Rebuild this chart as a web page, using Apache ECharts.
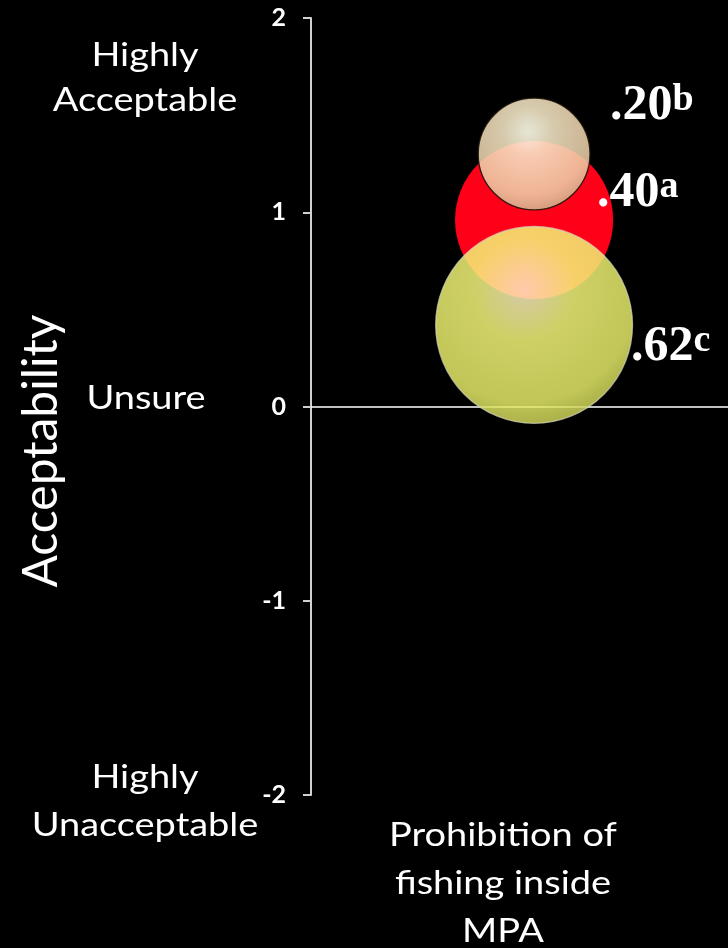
<!DOCTYPE html>
<html>
<head>
<meta charset="utf-8">
<script src="https://cdn.jsdelivr.net/npm/echarts@6/dist/echarts.min.js"></script>
<style>
html,body{margin:0;padding:0;background:#000;}
#chart{width:728px;height:948px;}
</style>
</head>
<body>
<div id="chart"></div>
<script>
// ---- data ----
const categories = ['Prohibition of\nfishing inside\nMPA'];
const groupNames = ['a', 'b', 'c'];
const proportions = [0.40, 0.20, 0.62];      // bubble size (proportion of respondents)
const meanAcceptability = [0.96, 1.30, 0.42]; // y value
const superscripts = ['a', 'b', 'c'];
const categoryX = [0.535];                    // x position of the category on the hidden x scale
const yTickValues = [-2, -1, 0, 1, 2];
const scaleLabels = ['Highly\nAcceptable', 'Unsure', 'Highly\nUnacceptable'];
const axisTitle = 'Acceptability';

// ---- styles ----
const fills = [
  '#ff0019',
  {type:'radial', x:0.45, y:0.3, r:0.75, colorStops:[
    {offset:0, color:'rgba(255,255,236,0.9)'},
    {offset:0.3, color:'rgba(246,232,198,0.87)'},
    {offset:0.75, color:'rgba(236,208,168,0.86)'},
    {offset:1, color:'rgba(196,166,128,0.9)'}]},
  {type:'radial', x:0.45, y:0.32, r:0.72, colorStops:[
    {offset:0, color:'rgba(255,240,200,0.84)'},
    {offset:0.35, color:'rgba(246,248,122,0.84)'},
    {offset:0.8, color:'rgba(230,236,104,0.84)'},
    {offset:1, color:'rgba(190,196,80,0.86)'}]}
];
const borders = ['rgba(0,0,0,0)', 'rgba(30,20,10,0.9)', 'rgba(215,215,190,0.7)'];
const labelOffsets = [[63, -27], [76, -48], [97, 22]];
const zs = [2, 3, 3];

const chart = echarts.init(document.getElementById('chart'));

const series = proportions.map((p, i) => ({
  type: 'scatter',
  name: groupNames[i],
  z: zs[i],
  data: [[categoryX[0], meanAcceptability[i], p]],
  symbolSize: v => 250 * Math.sqrt(v[2]),
  itemStyle: {color: fills[i], borderColor: borders[i], borderWidth: 1.3, opacity: 1},
  label: {
    show: true,
    position: 'inside',
    align: 'left',
    verticalAlign: 'middle',
    offset: labelOffsets[i],
    formatter: () => '{n|' + p.toFixed(2).replace(/^0/, '') + '}{s|' + superscripts[i] + '}',
    rich: {
      n: {color:'#fff', fontFamily:'Liberation Serif', fontWeight:'bold', fontSize:50, lineHeight:50, verticalAlign:'bottom'},
      s: {color:'#fff', fontFamily:'Liberation Serif', fontWeight:'bold', fontSize:38, lineHeight:38, verticalAlign:'top'}
    }
  },
  emphasis: {disabled: true},
  silent: true
}));

const sansFont = 'Lato';
const sx = 1.15;
const graphics = [
  {type:'text', x:145, y:78, scaleX:sx, style:{text:scaleLabels[0], x:0, y:0, align:'center', verticalAlign:'middle', fill:'#fff', font:'33px ' + sansFont, lineHeight:45}},
  {type:'text', x:146, y:398, scaleX:sx, style:{text:scaleLabels[1], x:0, y:0, align:'center', verticalAlign:'middle', fill:'#fff', font:'33px ' + sansFont}},
  {type:'text', x:145, y:801, scaleX:sx, style:{text:scaleLabels[2], x:0, y:0, align:'center', verticalAlign:'middle', fill:'#fff', font:'33px ' + sansFont, lineHeight:48}},
  {type:'text', rotation:Math.PI/2, x:42, y:451, style:{text:axisTitle, x:0, y:0, align:'center', verticalAlign:'middle', fill:'#fff', font:'48px ' + sansFont}},
  {type:'text', x:503, y:883, scaleX:sx, style:{text:categories[0], x:0, y:0, align:'center', verticalAlign:'middle', fill:'#fff', font:'33px ' + sansFont, lineHeight:48}}
];

chart.setOption({
  backgroundColor: '#000',
  animation: false,
  grid: {left: 311, right: 0, top: 18, bottom: 153, containLabel: false},
  xAxis: {
    type: 'value', min: 0, max: 1,
    axisLine: {show: true, onZero: true, lineStyle: {color: '#fff', width: 1.5}},
    axisTick: {show: false}, axisLabel: {show: false}, splitLine: {show: false}
  },
  yAxis: {
    type: 'value', min: yTickValues[0], max: yTickValues[yTickValues.length - 1], interval: 1,
    axisLine: {show: true, lineStyle: {color: '#d0d0d0', width: 2}},
    axisTick: {show: true, length: 8, lineStyle: {color: '#d0d0d0', width: 2}},
    axisLabel: {color: '#fff', fontFamily: 'Lato', fontWeight: 'bold', fontSize: 25, margin: 25},
    splitLine: {show: false}
  },
  graphic: graphics,
  series: series
});
</script>
</body>
</html>
